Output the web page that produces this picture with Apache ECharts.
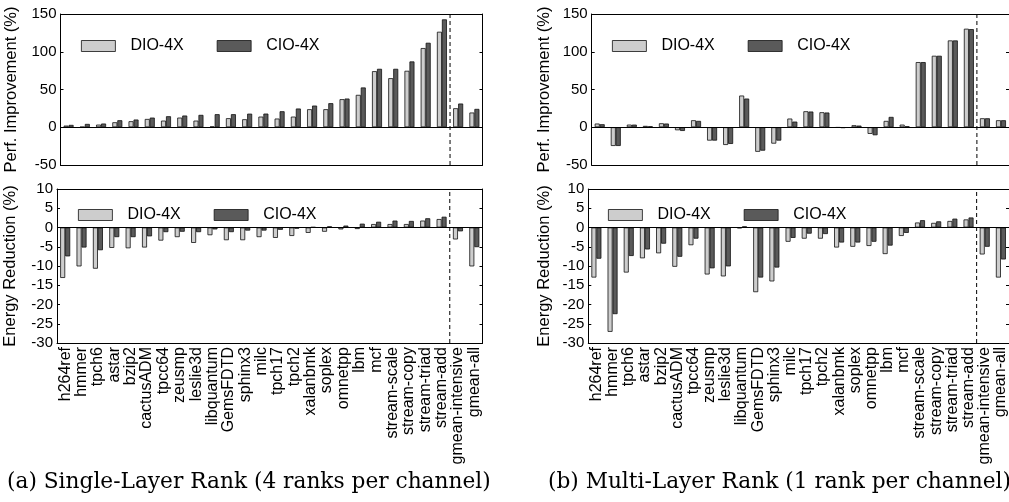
<!DOCTYPE html>
<html>
<head>
<meta charset="utf-8">
<script src="https://cdn.jsdelivr.net/npm/echarts@6/dist/echarts.min.js"></script>
<style>
html, body { margin: 0; padding: 0; background: #fff; }
#chart { width: 1009px; height: 502px; }
</style>
</head>
<body>
<div id="chart"></div>
<script>
const categories = ['h264ref', 'hmmer', 'tpch6', 'astar', 'bzip2', 'cactusADM', 'tpcc64', 'zeusmp',
    'leslie3d', 'libquantum', 'GemsFDTD', 'sphinx3', 'milc', 'tpch17', 'tpch2', 'xalanbmk', 'soplex',
    'omnetpp', 'lbm', 'mcf', 'stream-scale', 'stream-copy', 'stream-triad', 'stream-add',
    'gmean-intensive', 'gmean-all']
const seriesNames = ['DIO-4X', 'CIO-4X']
// the gmean group starts after this many benchmarks
const gmeanStart = 24

// (a) single-layer rank
const perfSingleDIO = [2.2, 0.5, 3.5, 6.6, 8, 11, 8.8, 12.8, 8.8, 1, 12, 10.6, 14.1, 11.5, 14.1, 23.9, 23.9, 37.2, 42.9, 74.3, 65, 74.8, 104.9, 126.5, 25.2, 19.5]
const perfSingleCIO = [3.1, 4.4, 4.9, 9.3, 10.2, 12.8, 14.6, 15.5, 16.4, 17.3, 17.3, 18, 18.1, 21.2, 24.8, 28.7, 31.9, 38, 52.7, 77.4, 77.4, 87.2, 111.9, 142.9, 31.4, 24.3]
const energySingleDIO = [-13.1, -10.1, -10.7, -5.3, -5.4, -5.2, -3.4, -2.5, -4, -2, -3.3, -3.3, -2.5, -2.7, -2.2, -1.4, -1.1, -0.5, -0.4, 0.9, 0.9, 0.9, 1.8, 2.2, -3.1, -10.1]
const energySingleCIO = [-7.5, -5.2, -5.9, -2.5, -2.5, -2.3, -1.2, -1.1, -1.2, -0.5, -1.2, -0.8, -0.8, -0.6, -0.3, 0.1, 0.3, 0.5, 1.0, 1.5, 1.8, 1.7, 2.4, 2.8, -1.0, -5.1]

// (b) multi-layer rank
const perfMultiDIO = [4.9, -24.8, 3.5, 1.8, 5.3, -4, 9.3, -17.7, -23.5, 42, -32.5, -21.7, 11.5, 21.2, 19.9, -0.5, 2.7, -8.8, 8.4, 3.5, 86.3, 94.7, 115, 130.5, 11.9, 9.3]
const perfMultiCIO = [4, -24.8, 3.5, 1.3, 4.9, -4.9, 8.4, -17.7, -22.1, 38, -31, -17.7, 7.5, 20.8, 19.5, -1, 2.2, -10.6, 13.7, 1.3, 86.3, 94.7, 115, 130, 11.9, 9.3]
const energyMultiDIO = [-13, -27.1, -11.7, -8, -6.7, -10.2, -4.6, -12.2, -12.7, -0.2, -16.8, -14, -3.7, -2.9, -2.9, -5.2, -5, -4.8, -6.9, -2.2, 1.3, 1.2, 1.7, 2.1, -7, -13]
const energyMultiCIO = [-8.1, -22.5, -7.4, -5.7, -4.2, -7.6, -2.9, -10.6, -10.1, 0.3, -13, -10.4, -2.7, -1.6, -1.7, -3.9, -3.9, -3.7, -4.7, -1.4, 1.9, 1.6, 2.3, 2.6, -5, -8.3]

const perfTicks = { min: -50, max: 150, interval: 50 }
const energyTicks = { min: -30, max: 10, interval: 5 }

const captions = ['(a) Single-Layer Rank (4 ranks per channel)', '(b) Multi-Layer Rank (1 rank per channel)']

const font = '"Liberation Sans", Arial, sans-serif'
const colors = ['#cdcdcd', '#5a5a5a']

const panels = [
    { box: { left: 60.5, top: 14, width: 422, height: 151 }, legend: { left: 76, top: 33 }, name: 'Perf. Improvement (%)', nameGap: 41, ticks: perfTicks, data: [perfSingleDIO, perfSingleCIO], labels: false },
    { box: { left: 57, top: 189, width: 425.5, height: 154 }, legend: { left: 73, top: 202 }, name: 'Energy Reduction (%)', nameGap: 38, ticks: energyTicks, data: [energySingleDIO, energySingleCIO], labels: true },
    { box: { left: 591.7, top: 14, width: 421.5, height: 151 }, legend: { left: 607, top: 33 }, name: 'Perf. Improvement (%)', nameGap: 39, ticks: perfTicks, data: [perfMultiDIO, perfMultiCIO], labels: false },
    { box: { left: 588.3, top: 189, width: 425, height: 154 }, legend: { left: 603, top: 202 }, name: 'Energy Reduction (%)', nameGap: 35, ticks: energyTicks, data: [energyMultiDIO, energyMultiCIO], labels: true }
]

const grid = [], xAxis = [], yAxis = [], series = [], legend = []
const lineBlack = { lineStyle: { color: '#000', width: 1 } }

panels.forEach(function (p, g) {
    grid.push(Object.assign({ show: false }, p.box))
    const catAxis = {
        type: 'category',
        gridIndex: g,
        data: categories,
        boundaryGap: true,
        axisLine: Object.assign({ onZero: false }, lineBlack),
        axisTick: { inside: true, length: 3, lineStyle: { color: '#000' } },
        splitLine: { show: false }
    }
    xAxis.push(Object.assign({}, catAxis, {
        position: 'bottom',
        axisLabel: {
            show: p.labels,
            interval: 0,
            rotate: 90,
            margin: 4,
            color: '#000',
            fontFamily: font,
            fontSize: 16
        }
    }))
    xAxis.push(Object.assign({}, catAxis, { position: 'top', axisLabel: { show: false } }))
    // hidden value axis for the separator before the gmean bars
    xAxis.push({ type: 'value', gridIndex: g, min: 0, max: categories.length, show: false })

    const valAxis = {
        type: 'value',
        gridIndex: g,
        min: p.ticks.min,
        max: p.ticks.max,
        interval: p.ticks.interval,
        axisLine: Object.assign({ show: true }, lineBlack),
        axisTick: { show: true, inside: true, length: 3, lineStyle: { color: '#000' } },
        splitLine: { show: false }
    }
    yAxis.push(Object.assign({}, valAxis, {
        position: 'left',
        name: p.name,
        nameLocation: 'middle',
        nameGap: p.nameGap,
        nameTextStyle: { color: '#000', fontFamily: font, fontSize: 16.5 },
        axisLabel: { color: '#000', fontFamily: font, fontSize: 15, margin: 4 }
    }))
    yAxis.push(Object.assign({}, valAxis, { position: 'right', axisLabel: { show: false } }))

    seriesNames.forEach(function (name, k) {
        const s = {
            name: name,
            type: 'bar',
            xAxisIndex: g * 3,
            yAxisIndex: g * 2,
            barWidth: 5,
            barGap: '0%',
            itemStyle: { color: colors[k], borderColor: '#111', borderWidth: 0.8 },
            data: p.data[k],
            animation: false
        }
        if (k === 0) {
            s.markLine = {
                silent: true,
                symbol: 'none',
                label: { show: false },
                lineStyle: { color: '#000', type: 'solid', width: 1 },
                data: [{ yAxis: 0 }],
                animation: false
            }
        }
        series.push(s)
    })
    series.push({
        type: 'line',
        xAxisIndex: g * 3 + 2,
        yAxisIndex: g * 2,
        symbol: 'none',
        silent: true,
        lineStyle: { color: '#000', width: 1, type: [4, 3] },
        data: [[gmeanStart, p.ticks.min], [gmeanStart, p.ticks.max]],
        animation: false
    })

    legend.push({
        left: p.legend.left,
        top: p.legend.top,
        data: seriesNames.map(function (n) { return { name: n, icon: 'rect' } }),
        itemWidth: 34,
        itemHeight: 11,
        itemGap: 33,
        selectedMode: false,
        itemStyle: { borderColor: '#111', borderWidth: 0.8 },
        textStyle: { color: '#000', fontFamily: font, fontSize: 16, padding: [0, 0, 0, 10] }
    })
})

const chart = echarts.init(document.getElementById('chart'))
chart.setOption({
    animation: false,
    backgroundColor: '#fff',
    grid: grid,
    xAxis: xAxis,
    yAxis: yAxis,
    legend: legend,
    series: series,
    graphic: [
        {
            type: 'text',
            left: 7,
            top: 471,
            style: { text: captions[0], font: '21.7px "DejaVu Serif", serif', fill: '#000' }
        },
        {
            type: 'text',
            left: 548,
            top: 471,
            style: { text: captions[1], font: '21.7px "DejaVu Serif", serif', fill: '#000' }
        }
    ]
})
</script>
</body>
</html>
